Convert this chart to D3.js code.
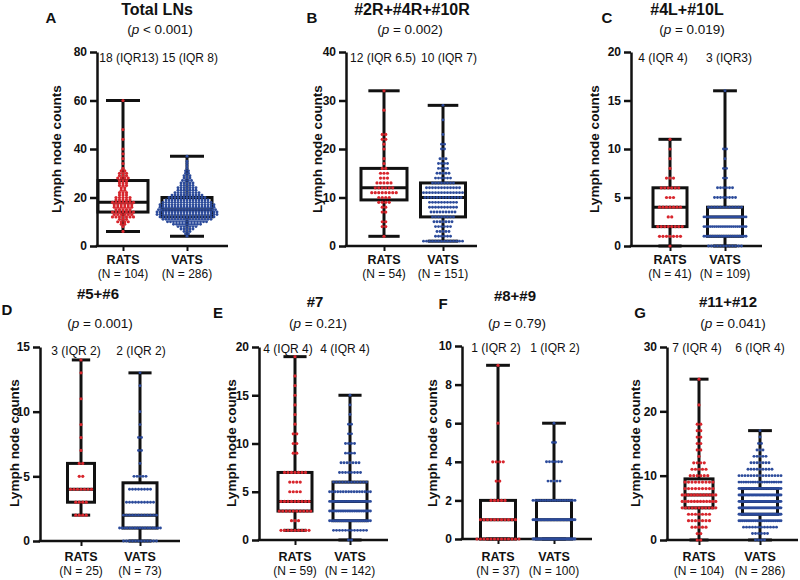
<!DOCTYPE html>
<html><head><meta charset="utf-8">
<script src="https://cdn.jsdelivr.net/npm/d3@7"></script>
<style>body{margin:0;background:#fff} svg text{font-family:"Liberation Sans",Arial,sans-serif;fill:#111}</style>
</head><body><svg id="chart" width="800" height="580"></svg>
<script>
// ---------------- DATA ----------------
const groups = ["RATS", "VATS"];
const panelLetters = ["A", "B", "C", "D", "E", "F", "G"];
const titles = ["Total LNs", "#2R+#4R+#10R", "#4L+#10L", "#5+#6", "#7", "#8+#9", "#11+#12"];
const pTexts = ["< 0.001", "= 0.002", "= 0.019", "= 0.001", "= 0.21", "= 0.79", "= 0.041"];
const sampleN = [[104, 286], [54, 151], [41, 109], [25, 73], [59, 142], [37, 100], [104, 286]];
const medianLabels = [["18 (IQR13)", "15 (IQR 8)"], ["12 (IQR 6.5)", "10 (IQR 7)"], ["4 (IQR 4)", "3 (IQR3)"],
  ["3 (IQR 2)", "2 (IQR 2)"], ["4 (IQR 4)", "4 (IQR 4)"], ["1 (IQR 2)", "1 (IQR 2)"], ["7 (IQR 4)", "6 (IQR 4)"]];
const yMax = [80, 40, 20, 15, 20, 10, 30];
const yTicks = [[0, 20, 40, 60, 80], [0, 10, 20, 30, 40], [0, 5, 10, 15, 20], [0, 5, 10, 15],
  [0, 5, 10, 15, 20], [0, 2, 4, 6, 8, 10], [0, 10, 20, 30]];
// box statistics: [min, Q1, median, Q3, max]
const ratsStats = [[6, 14, 18, 27, 60], [2, 9.5, 12, 16, 32], [0, 2, 4, 6, 11], [2, 3, 4, 6, 14],
  [1, 3, 4, 7, 19], [0, 0, 1, 2, 9], [0, 5, 7, 9.5, 25]];
const vatsStats = [[4, 12, 15, 20, 37], [1, 6, 10, 13, 29], [0, 1, 3, 4, 16], [0, 1, 2, 4.5, 13],
  [0, 2, 4, 6, 15], [0, 0, 1, 2, 6], [0, 4, 6, 8, 17]];
// individual counts: [value, number of patients]
const ratsA = [[6,1],[8,1],[9,2],[10,4],[11,3],[12,7],[13,6],[14,7],[15,5],[16,6],[17,6],[18,7],[19,5],[20,5],[21,3],[22,3],[23,2],[24,2],[25,3],[26,3],[27,3],[28,4],[29,3],[30,3],[31,2],[32,1],[34,1],[36,1],[38,1],[40,1],[44,1],[48,1],[60,1]];
const vatsA = [[4,1],[5,2],[6,3],[7,5],[8,7],[9,10],[10,14],[11,17],[12,19],[13,21],[14,21],[15,20],[16,19],[17,19],[18,17],[19,15],[20,13],[21,11],[22,9],[23,7],[24,7],[25,5],[26,5],[27,4],[28,3],[29,3],[30,2],[31,2],[32,1],[33,1],[34,1],[35,1],[37,1]];
const ratsB = [[2,1],[4,2],[5,2],[7,2],[8,2],[9,4],[10,4],[11,8],[12,6],[13,5],[14,3],[15,3],[16,2],[17,1],[18,1],[20,1],[21,1],[22,2],[23,2],[28,1],[32,1]];
const vatsB = [[1,14],[2,6],[3,5],[4,6],[5,7],[6,8],[7,9],[8,10],[9,10],[10,13],[11,14],[12,12],[13,8],[14,6],[15,5],[16,4],[17,4],[18,3],[20,2],[21,2],[23,1],[26,1],[29,1]];
const ratsC = [[0,1],[1,7],[2,8],[3,2],[4,7],[5,3],[6,6],[7,3],[8,1],[9,1],[10,1],[11,1]];
const vatsC = [[0,12],[1,20],[2,21],[3,22],[4,12],[5,8],[6,6],[7,2],[8,2],[9,1],[10,2],[16,1]];
const ratsD = [[2,4],[3,4],[4,7],[5,2],[6,2],[7,1],[8,1],[9,1],[11,1],[13,1],[14,1]];
const vatsD = [[0,12],[1,17],[2,12],[3,10],[4,8],[5,5],[6,1],[7,2],[8,2],[9,1],[10,1],[12,1],[13,1]];
const ratsE = [[1,9],[2,3],[3,10],[4,9],[5,4],[6,4],[7,7],[9,2],[10,2],[11,2],[12,1],[13,1],[14,1],[15,1],[16,1],[17,1],[19,1]];
const vatsE = [[0,2],[1,12],[2,22],[3,24],[4,24],[5,16],[6,12],[7,8],[8,7],[9,4],[10,4],[11,2],[12,2],[13,1],[14,1],[15,1]];
const ratsF = [[0,13],[1,11],[2,5],[3,2],[4,4],[6,1],[9,1]];
const vatsF = [[0,38],[1,30],[2,18],[3,5],[4,6],[5,2],[6,1]];
const ratsG = [[0,2],[1,2],[2,5],[3,7],[4,7],[5,11],[6,12],[7,12],[8,9],[9,9],[10,6],[11,5],[12,4],[13,1],[14,2],[15,2],[16,2],[17,2],[18,2],[21,1],[25,1]];
const vatsG = [[0,4],[1,6],[2,12],[3,24],[4,40],[5,42],[6,38],[7,32],[8,26],[9,19],[10,15],[11,9],[12,7],[13,5],[14,3],[15,2],[16,1],[17,1]];
const ratsCounts = [ratsA, ratsB, ratsC, ratsD, ratsE, ratsF, ratsG];
const vatsCounts = [vatsA, vatsB, vatsC, vatsD, vatsE, vatsF, vatsG];

// ---------------- LAYOUT ----------------
const layout = [
  {x0:97,  x1:228, cx:[123,187], bw:[50,50], yTop:52,  y0:246, letter:[51,23],  title:[157,15],  p:[160,34],  anno:[129,190], annoY:62,  ylab:[56,149],  xlab:[264,278], ts:16},
  {x0:346, x1:477, cx:[384,443], bw:[46,45], yTop:52,  y0:246, letter:[312,23], title:[412,15],  p:[410,34],  anno:[383,449], annoY:62,  ylab:[317,149], xlab:[264,278], ts:16},
  {x0:631, x1:762, cx:[670,725], bw:[34,35], yTop:52,  y0:246, letter:[607,23], title:[687,15],  p:[692,34],  anno:[663,729], annoY:62,  ylab:[594,149], xlab:[264,278], ts:16},
  {x0:40,  x1:180, cx:[81,140],  bw:[27,34], yTop:347, y0:541, letter:[7,315],  title:[98,299],  p:[100,328], anno:[76,141],  annoY:355, ylab:[14,443],  xlab:[561,575], ts:15},
  {x0:259, x1:388, cx:[295,350], bw:[34,34], yTop:347, y0:540, letter:[218,318],title:[315,307], p:[318,328], anno:[288,345], annoY:353, ylab:[231,443], xlab:[561,575], ts:15},
  {x0:462, x1:592, cx:[498,554], bw:[35,35], yTop:346, y0:539, letter:[443,309],title:[515,301], p:[517,328], anno:[496,555], annoY:352, ylab:[432,443], xlab:[561,575], ts:15},
  {x0:667, x1:798, cx:[699,760], bw:[28,35], yTop:347, y0:540, letter:[640,318],title:[728,307], p:[733,328], anno:[697,760], annoY:352, ylab:[635,443], xlab:[561,575], ts:15}
];
const colors = ["#d8262d", "#2c4b9b"];
const dotR = [1.6, 1.45];
const dotSpacing = [3.5, 3.0];

const svg = d3.select("#chart");

layout.forEach((L, i) => {
  const g = svg.append("g");
  const y = d3.scaleLinear().domain([0, yMax[i]]).range([L.y0, L.yTop]);
  const x = d3.scalePoint().domain(groups).range(L.cx);

  // y axis
  const ya = g.append("g").attr("transform", `translate(${L.x0},0)`)
    .call(d3.axisLeft(y).tickValues(yTicks[i]).tickSize(7).tickSizeOuter(0).tickPadding(3));
  ya.select(".domain").attr("stroke", "#111").attr("stroke-width", 2.5);
  ya.selectAll(".tick line").attr("stroke", "#111").attr("stroke-width", 2.5);
  ya.selectAll(".tick text").attr("font-size", 12).attr("font-weight", "bold")
    .attr("font-family", '"Liberation Sans",Arial,sans-serif').attr("fill", "#111");

  // x axis
  g.append("line").attr("x1", L.x0 - 1.25).attr("x2", L.x1).attr("y1", y(0)).attr("y2", y(0))
    .attr("stroke", "#111").attr("stroke-width", 2.5);
  const xa = g.append("g").attr("transform", `translate(0,${y(0)})`)
    .call(d3.axisBottom(x).tickSize(5).tickSizeOuter(0).tickFormat(""));
  xa.select(".domain").remove();
  xa.selectAll(".tick line").attr("stroke", "#111").attr("stroke-width", 2);

  // x labels
  groups.forEach((grp, j) => {
    g.append("text").attr("x", x(grp)).attr("y", L.xlab[0]).attr("text-anchor", "middle")
      .attr("font-size", 12.5).attr("font-weight", "bold").text(grp);
    g.append("text").attr("x", x(grp)).attr("y", L.xlab[1]).attr("text-anchor", "middle")
      .attr("font-size", 12).text(`(N = ${sampleN[i][j]})`);
  });

  // boxes
  const statsArr = [ratsStats[i], vatsStats[i]];
  const countsArr = [ratsCounts[i], vatsCounts[i]];
  groups.forEach((grp, j) => {
    const [mn, q1, md, q3, mx] = statsArr[j];
    const cx = x(grp), bw = L.bw[j], cw = bw * 0.68;
    const bg = g.append("g").attr("stroke", "#111").attr("stroke-width", 3).attr("fill", "none");
    bg.append("line").attr("x1", cx).attr("x2", cx).attr("y1", y(mx)).attr("y2", y(q3));
    bg.append("line").attr("x1", cx).attr("x2", cx).attr("y1", y(q1)).attr("y2", y(mn));
    bg.append("line").attr("x1", cx - cw / 2).attr("x2", cx + cw / 2).attr("y1", y(mx)).attr("y2", y(mx));
    bg.append("line").attr("x1", cx - cw / 2).attr("x2", cx + cw / 2).attr("y1", y(mn)).attr("y2", y(mn));
    bg.append("rect").attr("x", cx - bw / 2).attr("y", y(q3)).attr("width", bw).attr("height", Math.max(0, y(q1) - y(q3)));
    bg.append("line").attr("x1", cx - bw / 2).attr("x2", cx + bw / 2).attr("y1", y(md)).attr("y2", y(md));
  });

  // dots
  groups.forEach((grp, j) => {
    const cx = x(grp), maxW = L.bw[j] * 1.2;
    const pts = [];
    countsArr[j].forEach(([v, n]) => {
      const s = n > 1 ? Math.min(dotSpacing[j], maxW / (n - 1)) : 0;
      for (let k = 0; k < n; k++) pts.push({ v, dx: (k - (n - 1) / 2) * s });
    });
    g.append("g").selectAll("circle").data(pts).join("circle")
      .attr("cx", d => cx + d.dx).attr("cy", d => y(d.v)).attr("r", dotR[j]).attr("fill", colors[j]);
  });

  // annotations
  groups.forEach((grp, j) => {
    g.append("text").attr("x", L.anno[j]).attr("y", L.annoY).attr("text-anchor", "middle")
      .attr("font-size", 12).text(medianLabels[i][j]);
  });

  // titles
  g.append("text").attr("x", L.letter[0]).attr("y", L.letter[1]).attr("text-anchor", "middle")
    .attr("font-size", 15).attr("font-weight", "bold").text(panelLetters[i]);
  g.append("text").attr("x", L.title[0]).attr("y", L.title[1]).attr("text-anchor", "middle")
    .attr("font-size", L.ts).attr("font-weight", "bold").text(titles[i]);
  const pt = g.append("text").attr("x", L.p[0]).attr("y", L.p[1]).attr("text-anchor", "middle").attr("font-size", 13.5);
  pt.append("tspan").text("(");
  pt.append("tspan").attr("font-style", "italic").text("p");
  pt.append("tspan").text(" " + pTexts[i] + ")");

  // y label
  g.append("text").attr("transform", `translate(${L.ylab[0]},${L.ylab[1]}) rotate(-90)`)
    .attr("text-anchor", "middle").attr("dominant-baseline", "central")
    .attr("font-size", 13.5).attr("font-weight", "bold").text("Lymph node counts");
});
</script>
</body></html>
